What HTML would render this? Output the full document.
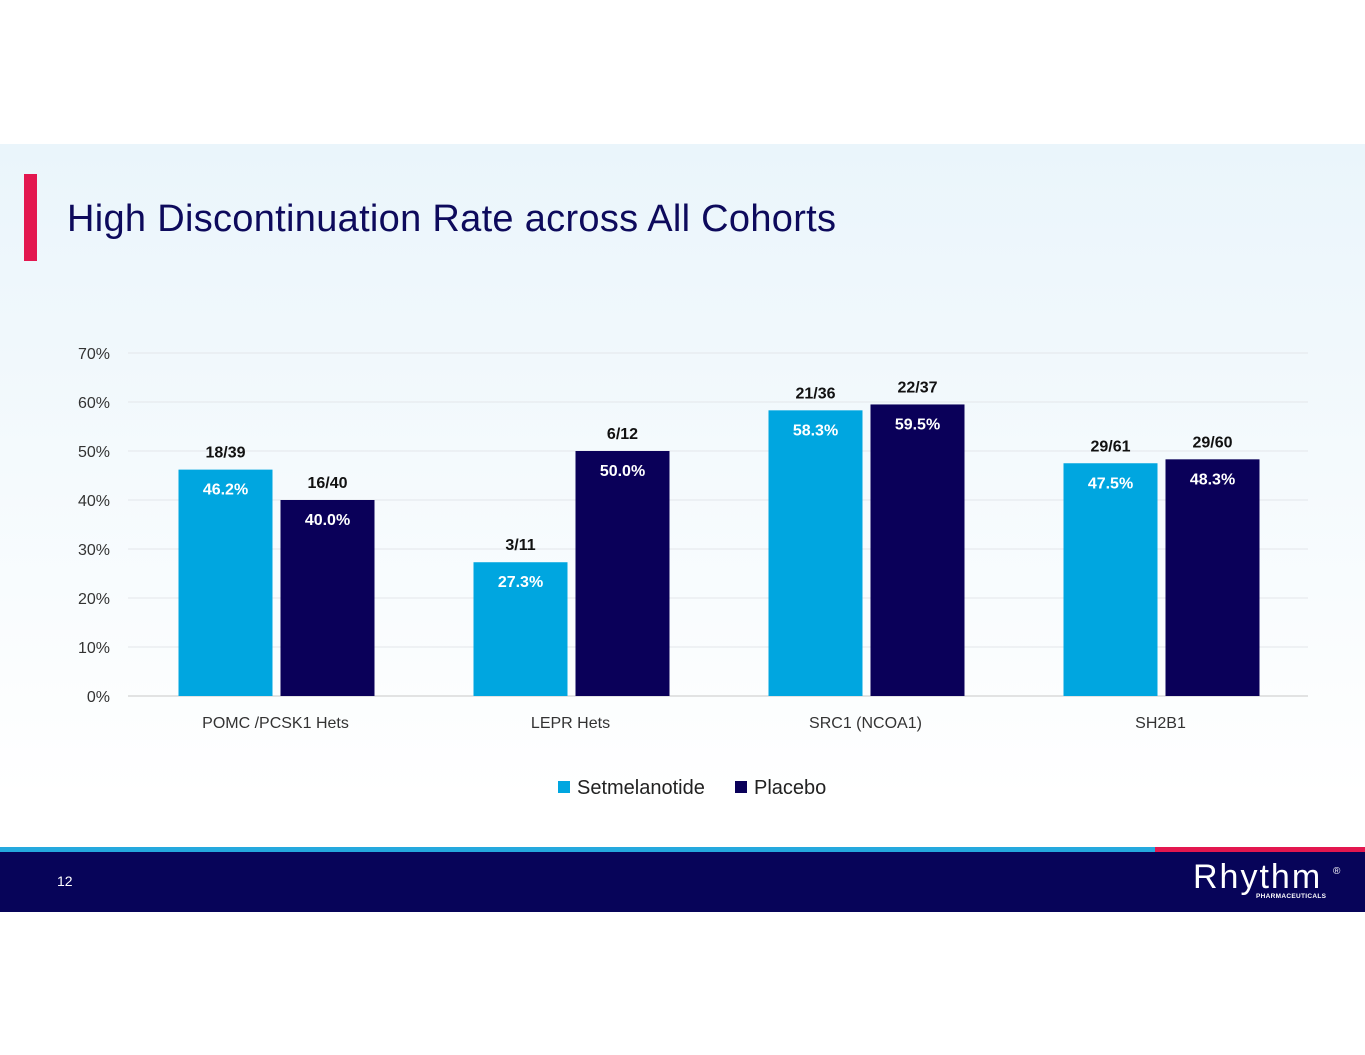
<!DOCTYPE html>
<html><head><meta charset="utf-8"><style>
body{margin:0;width:1365px;height:1055px;background:#fff;font-family:"Liberation Sans",sans-serif;position:relative;overflow:hidden}
#slide{position:absolute;left:0;top:144px;width:1365px;height:768px;background:linear-gradient(#eaf5fb,#ffffff 85%)}
#accent{position:absolute;left:24px;top:174px;width:13px;height:87px;background:#e3174f}
#title{position:absolute;left:67px;top:198px;font-size:38px;color:#0d0a5c;font-family:"Liberation Sans",sans-serif;letter-spacing:0.3px}
#footer{position:absolute;left:0;top:852px;width:1365px;height:60px;background:#070459}
#stripe1{position:absolute;left:0;top:847px;width:1155px;height:5px;background:#25a9de}
#stripe2{position:absolute;left:1155px;top:847px;width:210px;height:5px;background:#e3174f}
#pagenum{position:absolute;left:57px;top:873px;color:#fff;font-size:14px}
#logo{position:absolute;left:1193px;top:858px;color:#fff;font-size:34px;letter-spacing:2px;font-weight:300}
#logo-sub{position:absolute;left:1256px;top:893px;color:#fff;font-size:6.5px;font-weight:bold;letter-spacing:0.3px}
#logo-reg{position:absolute;left:1333px;top:866px;color:#fff;font-size:10px}
</style></head><body>
<div id="slide"></div>
<div id="accent"></div>
<div id="title">High Discontinuation Rate across All Cohorts</div>
<svg id="chart" width="1365" height="1055" style="position:absolute;left:0;top:0"></svg>
<div id="stripe1"></div>
<div id="stripe2"></div>
<div id="footer"></div>
<div id="pagenum">12</div>
<div id="logo">Rhythm</div>
<div id="logo-reg">®</div>
<div id="logo-sub">PHARMACEUTICALS</div>
<script>
const categories=["POMC /PCSK1 Hets","LEPR Hets","SRC1 (NCOA1)","SH2B1"];
const setmelanotide=[46.2,27.3,58.3,47.5];
const placebo=[40.0,50.0,59.5,48.3];
const setFractions=["18/39","3/11","21/36","29/61"];
const placeboFractions=["16/40","6/12","22/37","29/60"];
const yTicks=[0,10,20,30,40,50,60,70];
const seriesNames=["Setmelanotide","Placebo"];
const colors=["#00a6e0","#0a0059"];

const svg=document.getElementById('chart');
const NS="http://www.w3.org/2000/svg";
const X0=128,X1=1308,Y0=696,Y70=353;
const y=v=>Y0-(v/70)*(Y0-Y70);
const groupW=(X1-X0)/categories.length;
const barW=94,gap=8;
const xBar=(i,s)=>X0+1+i*groupW+groupW/2-gap/2-barW+s*(barW+gap);
function el(t,a,txt){const e=document.createElementNS(NS,t);for(const k in a)e.setAttribute(k,a[k]);if(txt!==undefined)e.textContent=txt;svg.appendChild(e);return e;}
yTicks.forEach(t=>{
  const g=el('line',{x1:X0,x2:X1,y1:y(t),y2:y(t),stroke:t===0?'#c8c8c8':'#e3e6ea','stroke-width':1});
  
  
  const l=el('text',{x:110,y:y(t)+6,'text-anchor':'end','font-size':16,fill:'#333','font-family':'Liberation Sans, sans-serif'},t+'%');
  
  
});
const series=[setmelanotide,placebo],fracs=[setFractions,placeboFractions];
categories.forEach((c,i)=>{
  series.forEach((arr,s)=>{
    const v=arr[i],x=xBar(i,s);
    const r=el('rect',{x:x,y:y(v),width:barW,height:Y0-y(v),fill:colors[s]});
    
    
    const vt=el('text',{x:x+barW/2,y:y(v)+25,'text-anchor':'middle','font-size':16,'font-weight':'bold',fill:'#fff','font-family':'Liberation Sans, sans-serif'},v.toFixed(1)+'%');
    
    
    const ft=el('text',{x:x+barW/2,y:y(v)-12,'text-anchor':'middle','font-size':16,'font-weight':'bold',fill:'#111','font-family':'Liberation Sans, sans-serif'},fracs[s][i]);
    
    
  });
  const ct=el('text',{x:X0+i*groupW+groupW/2,y:728,'text-anchor':'middle','font-size':16,fill:'#333','font-family':'Liberation Sans, sans-serif'},c);
  
  
});
const legX=[558,735];
seriesNames.forEach((n,s)=>{
  const r=el('rect',{x:legX[s],y:781,width:12,height:12,fill:colors[s]});
  
  
  const t=el('text',{x:legX[s]+19,y:794,'font-size':20,fill:'#222','font-family':'Liberation Sans, sans-serif'},n);
  
  
});
</script>
</body></html>
